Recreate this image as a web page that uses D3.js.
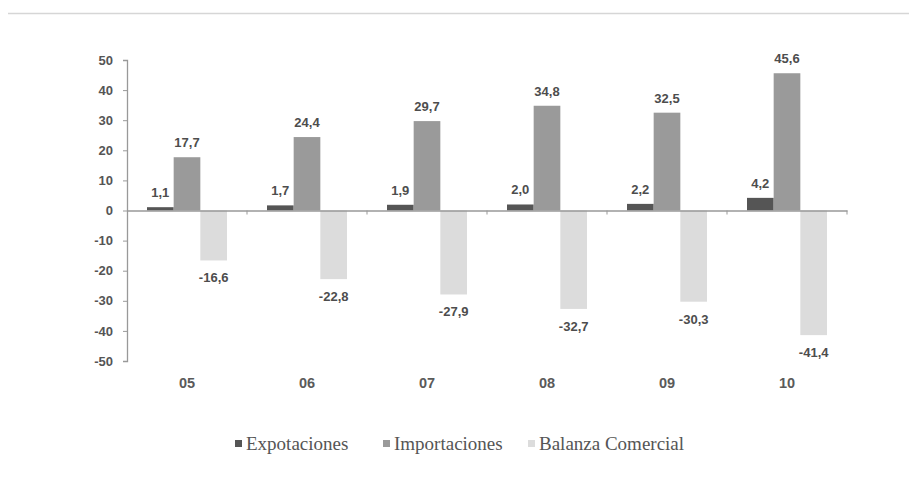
<!DOCTYPE html>
<html>
<head>
  <meta charset="utf-8">
  <script src="https://d3js.org/d3.v7.min.js"></script>
  <style>
    body { margin: 0; background: #fff; }
    svg text { font-family: 'Liberation Sans', Arial, sans-serif; }
  </style>
</head>
<body>
  <div id="chart"></div>
  <script>
    // data
    const years = ["05", "06", "07", "08", "09", "10"];
    const exportaciones = [1.1, 1.7, 1.9, 2.0, 2.2, 4.2];
    const importaciones = [17.7, 24.4, 29.7, 34.8, 32.5, 45.6];
    const balanza = [-16.6, -22.8, -27.9, -32.7, -30.3, -41.4];
    const seriesNames = ["Expotaciones", "Importaciones", "Balanza Comercial"];
    const yTicks = [50, 40, 30, 20, 10, 0, -10, -20, -30, -40, -50];

    const width = 909, height = 493;
    const colors = ["#555555", "#9a9a9a", "#dcdcdc"];
    const seriesValues = [exportaciones, importaciones, balanza];

    // plain hyphen for negatives, comma as decimal mark
    const fmtVal = v => (v < 0 ? "-" : "") + Math.abs(v).toFixed(1).replace(".", ",");
    const fmtTick = v => (v < 0 ? "-" : "") + Math.abs(v);

    const svg = d3.select("#chart").append("svg")
      .attr("width", width)
      .attr("height", height);

    // faint rule at the top of the page
    svg.append("line")
      .attr("x1", 8).attr("x2", width)
      .attr("y1", 13.5).attr("y2", 13.5)
      .attr("stroke", "#d6d6d6")
      .attr("stroke-width", 1.5);

    const x = d3.scaleBand()
      .domain(years)
      .range([127, 847]);

    const xInner = d3.scaleBand()
      .domain(d3.range(3))
      .range([20, 100]);

    const y = d3.scaleLinear()
      .domain([-50, 50])
      .range([361, 60]);

    // y axis
    const yAxis = svg.append("g")
      .attr("transform", "translate(127,0)")
      .call(d3.axisLeft(y).tickValues(yTicks).tickSize(4).tickFormat(fmtTick));
    yAxis.select(".domain").attr("stroke", "#999").attr("stroke-width", 1.3);
    yAxis.selectAll(".tick line").attr("stroke", "#999");
    yAxis.selectAll(".tick text")
      .attr("x", -14)
      .attr("fill", "#555")
      .attr("font-size", 13)
      .attr("font-weight", "bold")
      .style("font-family", "'Liberation Sans', Arial, sans-serif");

    // bars
    const groups = svg.selectAll("g.year")
      .data(years)
      .join("g")
      .attr("class", "year")
      .attr("transform", d => "translate(" + x(d) + ",0)");

    groups.selectAll("rect")
      .data((d, i) => seriesValues.map((s, k) => ({ k: k, v: s[i] })))
      .join("rect")
      .attr("x", d => xInner(d.k))
      .attr("width", xInner.bandwidth())
      .attr("y", d => y(Math.max(0, d.v)))
      .attr("height", d => Math.abs(y(d.v) - y(0)))
      .attr("fill", d => colors[d.k]);

    groups.selectAll("text.val")
      .data((d, i) => seriesValues.map((s, k) => ({ k: k, v: s[i] })))
      .join("text")
      .attr("class", "val")
      .attr("x", d => xInner(d.k) + xInner.bandwidth() / 2)
      .attr("y", d => d.v >= 0 ? y(d.v) - 10 : y(d.v) + 22)
      .attr("text-anchor", "middle")
      .attr("fill", "#4d4d4d")
      .attr("font-size", 13)
      .attr("font-weight", "bold")
      .text(d => fmtVal(d.v));

    // x axis at zero
    const xAxis = svg.append("g")
      .attr("transform", "translate(0," + y(0) + ")")
      .call(d3.axisBottom(x).tickSize(0).tickFormat(""));
    xAxis.select(".domain").attr("stroke", "#999").attr("stroke-width", 1.3);
    svg.selectAll("line.xtick")
      .data(years.map(d => x(d) + x.bandwidth()))
      .join("line")
      .attr("class", "xtick")
      .attr("x1", d => d).attr("x2", d => d)
      .attr("y1", y(0)).attr("y2", y(0) + 4)
      .attr("stroke", "#999");

    // category labels
    svg.selectAll("text.cat")
      .data(years)
      .join("text")
      .attr("class", "cat")
      .attr("x", d => x(d) + x.bandwidth() / 2)
      .attr("y", 388)
      .attr("text-anchor", "middle")
      .attr("fill", "#5a5a5a")
      .attr("font-size", 14.5)
      .attr("font-weight", "bold")
      .text(d => d);

    // legend
    const legendX = [235, 383, 528];
    const legend = svg.selectAll("g.legend")
      .data(seriesNames)
      .join("g")
      .attr("class", "legend")
      .attr("transform", (d, i) => "translate(" + legendX[i] + ",450)");
    legend.append("rect")
      .attr("x", 0).attr("y", -10)
      .attr("width", 7).attr("height", 7)
      .attr("fill", (d, i) => colors[i]);
    legend.append("text")
      .attr("x", 11)
      .attr("y", 0)
      .attr("fill", "#555")
      .attr("font-size", 19)
      .style("font-family", "'Liberation Serif', 'DejaVu Serif', serif")
      .text(d => d);
  </script>
</body>
</html>
